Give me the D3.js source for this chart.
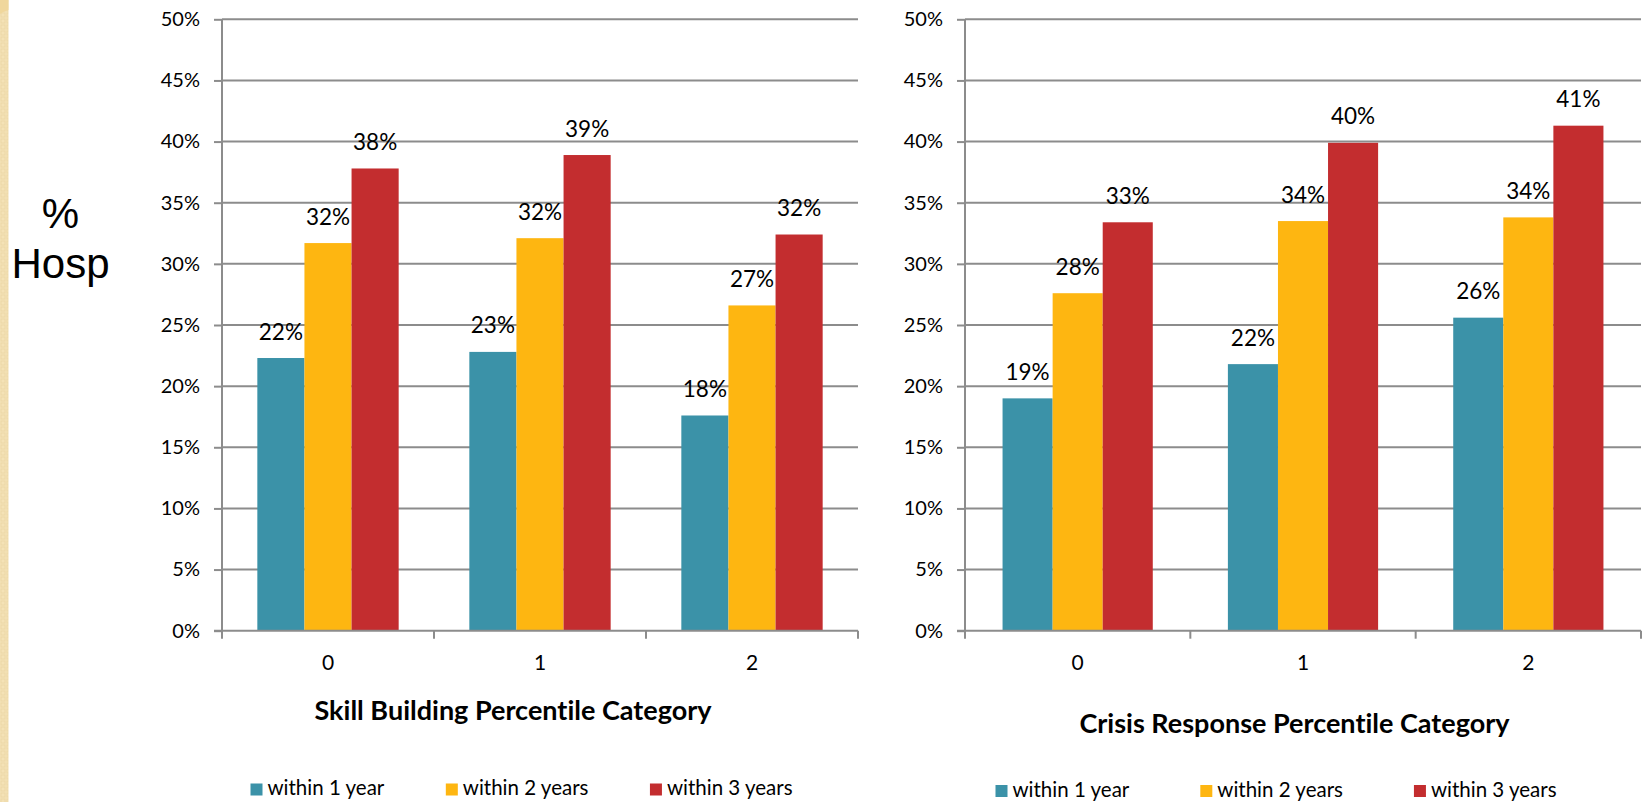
<!DOCTYPE html>
<html>
<head>
<meta charset="utf-8">
<script src="https://cdn.jsdelivr.net/npm/d3@7"></script>
<style>
  html, body { margin: 0; padding: 0; background: #ffffff; }
  svg { display: block; }
  svg text { font-variant-ligatures: none; font-feature-settings: "liga" 0; }
</style>
</head>
<body>
<svg id="chart" width="1645" height="802"></svg>
<script>
// ---- data ----
const categories = ["0", "1", "2"];
const seriesNames = ["within 1 year", "within 2 years", "within 3 years"];
const seriesColors = ["#3b92a8", "#feb611", "#c32d2f"];

// Skill Building percentile category
const skillWithin1 = [0.223, 0.228, 0.176];
const skillWithin2 = [0.317, 0.321, 0.266];
const skillWithin3 = [0.378, 0.389, 0.324];

// Crisis Response percentile category
const crisisWithin1 = [0.190, 0.218, 0.256];
const crisisWithin2 = [0.276, 0.335, 0.338];
const crisisWithin3 = [0.334, 0.399, 0.413];

const yTickValues = [0, 0.05, 0.10, 0.15, 0.20, 0.25, 0.30, 0.35, 0.40, 0.45, 0.50];

const panelTitles = ["Skill Building Percentile Category", "Crisis Response Percentile Category"];

// ---- drawing ----
const svg = d3.select("#chart");
const labelFont = "Lato, 'Open Sans', sans-serif";
const gridColor = "#8c8c8c";
const pct = d3.format(".0%");

// decorative side strip
const defs = svg.append("defs");
const pat = defs.append("pattern")
  .attr("id", "weave").attr("patternUnits", "userSpaceOnUse")
  .attr("width", 6).attr("height", 6);
pat.append("rect").attr("width", 6).attr("height", 6).attr("fill", "#f4e2b6");
pat.append("rect").attr("x", 1).attr("y", 1).attr("width", 4).attr("height", 4)
  .attr("fill", "none").attr("stroke", "#ecd6a4").attr("stroke-width", 0.8);
svg.append("rect").attr("x", 0).attr("y", 0).attr("width", 8.5).attr("height", 802)
  .attr("fill", "url(#weave)");
svg.append("path").attr("d", "M0,0 L8.5,0 L8.5,10 Q4,11 0,14 Z").attr("fill", "#f0d79c");

// y-axis title
const yTitle = svg.append("text")
  .attr("font-family", "'Liberation Sans', Arial, sans-serif")
  .attr("font-size", 42).attr("fill", "#000").attr("text-anchor", "middle");
yTitle.append("tspan").attr("x", 60.5).attr("y", 228).text("%");
yTitle.append("tspan").attr("x", 60.5).attr("y", 278).text("Hosp");

const y = d3.scaleLinear().domain([0, 0.5]).range([630.7, 19.3]);

function drawPanel(opts) {
  const { left, right, series, title, titleX, titleY, legendX, legendY, legendGap } = opts;
  const g = svg.append("g");

  const x = d3.scaleBand().domain(categories).range([left, right]).padding(0);
  const step = x.bandwidth();
  const xs = d3.scaleBand().domain(d3.range(series.length))
    .range([step / 6, step * 5 / 6]).padding(0);

  // horizontal gridlines
  g.append("g").selectAll("line")
    .data(yTickValues.filter(v => v > 0))
    .join("line")
    .attr("x1", left).attr("x2", right)
    .attr("y1", d => y(d)).attr("y2", d => y(d))
    .attr("stroke", gridColor).attr("stroke-width", 2);

  // y axis
  const yAxis = d3.axisLeft(y).tickValues(yTickValues).tickFormat(pct)
    .tickSize(8).tickPadding(14);
  const ya = g.append("g").attr("transform", `translate(${left},0)`).call(yAxis);
  ya.select(".domain").attr("stroke", gridColor).attr("stroke-width", 2)
    .attr("d", `M0,${y(0.5)}V${y(0)}`);
  ya.selectAll(".tick line").attr("stroke", gridColor).attr("stroke-width", 2);
  ya.selectAll(".tick text").attr("font-family", labelFont).attr("font-size", 20)
    .attr("fill", "#000");

  // bars
  const groups = g.append("g").selectAll("g")
    .data(categories)
    .join("g")
    .attr("transform", d => `translate(${x(d)},0)`);
  groups.selectAll("rect")
    .data((c, ci) => series.map((s, si) => ({ si, v: s[ci] })))
    .join("rect")
    .attr("x", d => xs(d.si)).attr("width", xs.bandwidth())
    .attr("y", d => y(d.v)).attr("height", d => y(0) - y(d.v))
    .attr("fill", d => seriesColors[d.si]);

  // x axis with boundary ticks
  const xa = g.append("g").attr("transform", `translate(0,${y(0)})`);
  xa.append("line").attr("x1", left - 8).attr("x2", right)
    .attr("stroke", gridColor).attr("stroke-width", 2);
  xa.selectAll("line.bound")
    .data(d3.range(categories.length + 1))
    .join("line").attr("class", "bound")
    .attr("x1", i => left + i * step).attr("x2", i => left + i * step)
    .attr("y1", 0).attr("y2", 8)
    .attr("stroke", gridColor).attr("stroke-width", 2);
  xa.selectAll("text")
    .data(categories)
    .join("text")
    .attr("x", d => x(d) + step / 2).attr("y", 39)
    .attr("text-anchor", "middle")
    .attr("font-family", labelFont).attr("font-size", 21).attr("fill", "#000")
    .text(d => d);

  // value labels
  groups.selectAll("text.val")
    .data((c, ci) => series.map((s, si) => ({ si, v: s[ci] })))
    .join("text").attr("class", "val")
    .attr("x", d => xs(d.si) + xs.bandwidth() / 2)
    .attr("y", d => y(d.v) - 18.5)
    .attr("text-anchor", "middle")
    .attr("font-family", labelFont).attr("font-size", 22.5).attr("fill", "#000")
    .text(d => pct(d.v));

  // axis title
  g.append("text").attr("x", titleX).attr("y", titleY)
    .attr("text-anchor", "middle")
    .attr("font-family", labelFont).attr("font-weight", "bold")
    .attr("font-size", 27).attr("fill", "#000")
    .text(title);

  // legend
  const lg = g.append("g");
  let cx = legendX;
  seriesNames.forEach((name, i) => {
    lg.append("rect").attr("x", cx).attr("y", legendY - 11.5)
      .attr("width", 12).attr("height", 12).attr("fill", seriesColors[i]);
    const t = lg.append("text").attr("x", cx + 17).attr("y", legendY)
      .attr("font-family", labelFont).attr("font-size", 20.5).attr("fill", "#000")
      .text(name);
    cx = cx + 17 + t.node().getComputedTextLength() + legendGap;
  });
}

drawPanel({
  left: 222, right: 858,
  series: [skillWithin1, skillWithin2, skillWithin3],
  title: panelTitles[0], titleX: 513, titleY: 720,
  legendX: 250.5, legendY: 795, legendGap: 61.5
});

drawPanel({
  left: 965, right: 1641,
  series: [crisisWithin1, crisisWithin2, crisisWithin3],
  title: panelTitles[1], titleX: 1294.5, titleY: 732.7,
  legendX: 995.5, legendY: 796.5, legendGap: 71
});
</script>
</body>
</html>
